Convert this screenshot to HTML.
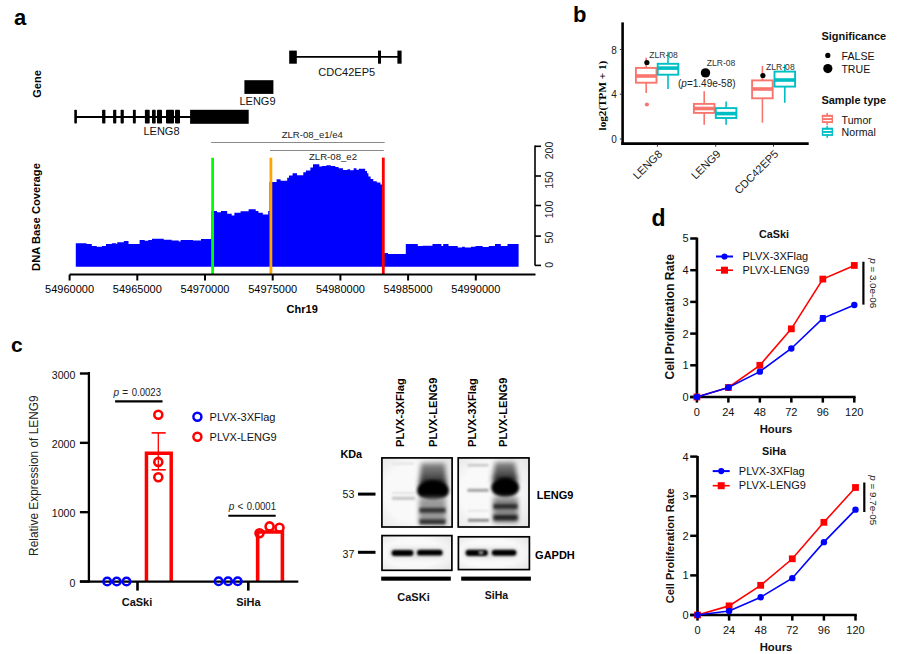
<!DOCTYPE html>
<html><head><meta charset="utf-8"><style>
html,body{margin:0;padding:0;background:#fff;width:899px;height:654px;overflow:hidden}
svg{display:block}
text{font-family:"Liberation Sans", sans-serif}
</style></head><body>
<svg width="899" height="654" viewBox="0 0 899 654">
<rect width="899" height="654" fill="#fff"/>
<text x="14.0" y="25.3" font-size="22" text-anchor="start" font-weight="bold" fill="#000" >a</text>
<text transform="translate(40.5,84) rotate(-90)" x="0" y="0" font-size="11" text-anchor="middle" font-weight="bold" fill="#000" >Gene</text>
<text transform="translate(40.2,217) rotate(-90)" x="0" y="0" font-size="11.2" text-anchor="middle" font-weight="bold" fill="#000" >DNA Base Coverage</text>
<line x1="75.6" y1="117.0" x2="191" y2="117.0" stroke="#000" stroke-width="1.9" />
<rect x="74.3" y="109.8" width="2.6000000000000085" height="13.8" fill="#000" rx="0.8"/>
<rect x="102.1" y="109.8" width="3.3000000000000114" height="13.8" fill="#000" rx="0.8"/>
<rect x="113.1" y="109.8" width="3.200000000000003" height="13.8" fill="#000" rx="0.8"/>
<rect x="120.6" y="109.8" width="3.200000000000003" height="13.8" fill="#000" rx="0.8"/>
<rect x="132.9" y="109.8" width="2.9000000000000057" height="13.8" fill="#000" rx="0.8"/>
<rect x="144.9" y="109.8" width="4.799999999999983" height="13.8" fill="#000" rx="0.8"/>
<rect x="152" y="109.8" width="3.6999999999999886" height="13.8" fill="#000" rx="0.8"/>
<rect x="157" y="109.8" width="5" height="13.8" fill="#000" rx="0.8"/>
<rect x="166" y="109.8" width="8" height="13.8" fill="#000" rx="0.8"/>
<rect x="175" y="109.8" width="5" height="13.8" fill="#000" rx="0.8"/>
<rect x="190.1" y="109.8" width="58.6" height="14" fill="#000" />
<text x="161.5" y="135" font-size="11" text-anchor="middle" font-weight="normal" fill="#111" >LENG8</text>
<rect x="244.4" y="80.2" width="29" height="13.7" fill="#000" />
<text x="257.5" y="105" font-size="11" text-anchor="middle" font-weight="normal" fill="#111" >LENG9</text>
<line x1="293" y1="56.9" x2="400" y2="56.9" stroke="#000" stroke-width="1.9" />
<rect x="289.2" y="50.6" width="7.6" height="13.1" fill="#000" />
<rect x="378" y="50.6" width="3" height="13.1" fill="#000" />
<rect x="397.4" y="50.6" width="4.2" height="13.1" fill="#000" />
<text x="346.7" y="75.5" font-size="11" text-anchor="middle" font-weight="normal" fill="#111" >CDC42EP5</text>
<line x1="211.1" y1="142.5" x2="384.7" y2="142.5" stroke="#8a8a8a" stroke-width="1" />
<text x="312.3" y="137.5" font-size="9.6" text-anchor="middle" font-weight="normal" fill="#222" >ZLR-08_e1/e4</text>
<line x1="270" y1="150.5" x2="383.8" y2="150.5" stroke="#8a8a8a" stroke-width="1" />
<text x="333" y="159.5" font-size="9.6" text-anchor="middle" font-weight="normal" fill="#222" >ZLR-08_e2</text>
<path d="M75.8,266.8 L75.8,243.2 L86.5,243.2 L86.5,244.1 L91.8,244.1 L91.8,245.9 L96.7,245.9 L96.7,246.8 L102,246.8 L102,246.1 L106,246.1 L106,244.1 L111.8,244.1 L111.8,243.2 L116.3,243.2 L116.3,244.1 L117.2,244.1 L117.2,242.2 L123.8,242.2 L123.8,241 L128.5,241 L128.5,244 L139.6,244 L139.6,240.1 L144.7,240.1 L144.7,240.7 L148.3,240.7 L148.3,240.1 L152,240.1 L152,238.8 L163.7,238.8 L163.7,239.7 L171.7,239.7 L171.7,240.6 L178.8,240.6 L178.8,241.5 L180.6,241.5 L180.6,240.1 L193,240.1 L193,240.6 L201,240.6 L201,239 L211.3,239 L211.3,211 L217,211 L217,212.3 L221,212.3 L221,211 L227.2,211 L227.2,213.7 L231.7,213.7 L231.7,215.5 L234.4,215.5 L234.4,212.8 L240.6,212.8 L240.6,211.2 L248.6,211.2 L248.6,209.2 L255.7,209.2 L255.7,211 L258.4,211 L258.4,212.8 L262.8,212.8 L262.8,214.6 L268.2,214.6 L268.2,211 L269.5,211 L269.5,182.1 L276.6,182.1 L276.6,179.2 L280.6,179.2 L280.6,180.8 L287.2,180.8 L287.2,177.7 L289,177.7 L289,175.5 L292.6,175.5 L292.6,173.2 L297,173.2 L297,175.3 L303.3,175.3 L303.3,172.3 L305.9,172.3 L305.9,170.6 L310.4,170.6 L310.4,167.5 L313,167.5 L313,164.3 L319.3,164.3 L319.3,166.6 L322,166.6 L322,166.1 L326.4,166.1 L326.4,165.2 L330.8,165.2 L330.8,166.1 L335.3,166.1 L335.3,167 L338.6,167 L338.6,168.3 L343,168.3 L343,170.1 L347.5,170.1 L347.5,169.2 L350.1,169.2 L350.1,170.3 L353.7,170.3 L353.7,168.3 L356.4,168.3 L356.4,169.7 L359,169.7 L359,168.8 L365.2,168.8 L365.2,171 L367,171 L367,173.2 L368.4,173.2 L368.4,176.4 L370.6,176.4 L370.6,179 L373.3,179 L373.3,181.2 L376.8,181.2 L376.8,182.6 L380.4,182.6 L380.4,184.4 L383,184.4 L383,253 L388,253 L388,253.9 L405.8,253.9 L405.8,244.1 L417.8,244.1 L417.8,246.1 L422.7,246.1 L422.7,245.7 L432.5,245.7 L432.5,244.1 L441.4,244.1 L441.4,245.9 L443.2,245.9 L443.2,244.1 L448.5,244.1 L448.5,246.1 L457.7,246.1 L457.7,247.4 L462.1,247.4 L462.1,246.8 L464.8,246.8 L464.8,247.4 L471,247.4 L471,246.8 L475.5,246.8 L475.5,246.1 L482.6,246.1 L482.6,247.1 L488.8,247.1 L488.8,245.9 L495,245.9 L495,244.1 L500.8,244.1 L500.8,246.1 L507.5,246.1 L507.5,244.1 L518.6,244.1 L518.6,266.8 Z" fill="#0000FF"/>
<line x1="212.6" y1="157.8" x2="212.6" y2="274.5" stroke="#00FF00" stroke-width="2.8" />
<line x1="270.9" y1="157.7" x2="270.9" y2="274.5" stroke="#FFA500" stroke-width="2.8" />
<line x1="383.3" y1="157.6" x2="383.3" y2="275" stroke="#FF0000" stroke-width="2.8" />
<line x1="69.6" y1="274.6" x2="535.5" y2="274.6" stroke="#000" stroke-width="2" />
<line x1="69.6" y1="274.6" x2="69.6" y2="280.5" stroke="#000" stroke-width="2" />
<text x="69.6" y="292.8" font-size="11" text-anchor="middle" font-weight="normal" fill="#000" >54960000</text>
<line x1="137.3" y1="274.6" x2="137.3" y2="280.5" stroke="#000" stroke-width="2" />
<text x="137.3" y="292.8" font-size="11" text-anchor="middle" font-weight="normal" fill="#000" >54965000</text>
<line x1="205.0" y1="274.6" x2="205.0" y2="280.5" stroke="#000" stroke-width="2" />
<text x="205.0" y="292.8" font-size="11" text-anchor="middle" font-weight="normal" fill="#000" >54970000</text>
<line x1="272.70000000000005" y1="274.6" x2="272.70000000000005" y2="280.5" stroke="#000" stroke-width="2" />
<text x="272.70000000000005" y="292.8" font-size="11" text-anchor="middle" font-weight="normal" fill="#000" >54975000</text>
<line x1="340.4" y1="274.6" x2="340.4" y2="280.5" stroke="#000" stroke-width="2" />
<text x="340.4" y="292.8" font-size="11" text-anchor="middle" font-weight="normal" fill="#000" >54980000</text>
<line x1="408.1" y1="274.6" x2="408.1" y2="280.5" stroke="#000" stroke-width="2" />
<text x="408.1" y="292.8" font-size="11" text-anchor="middle" font-weight="normal" fill="#000" >54985000</text>
<line x1="475.80000000000007" y1="274.6" x2="475.80000000000007" y2="280.5" stroke="#000" stroke-width="2" />
<text x="475.80000000000007" y="292.8" font-size="11" text-anchor="middle" font-weight="normal" fill="#000" >54990000</text>
<text x="302.2" y="313.2" font-size="11" text-anchor="middle" font-weight="bold" fill="#000" >Chr19</text>
<line x1="535" y1="145.6" x2="535" y2="265.6" stroke="#000" stroke-width="1.6" />
<line x1="535" y1="146.3" x2="541" y2="146.3" stroke="#000" stroke-width="1.6" />
<line x1="535" y1="176" x2="541" y2="176" stroke="#000" stroke-width="1.6" />
<line x1="535" y1="205.5" x2="541" y2="205.5" stroke="#000" stroke-width="1.6" />
<line x1="535" y1="236.1" x2="541" y2="236.1" stroke="#000" stroke-width="1.6" />
<line x1="535" y1="265.4" x2="541" y2="265.4" stroke="#000" stroke-width="1.6" />
<text transform="translate(552.8,150.5) rotate(-90)" x="0" y="0" font-size="10.5" text-anchor="middle" font-weight="normal" fill="#222" >200</text>
<text transform="translate(552.8,180.1) rotate(-90)" x="0" y="0" font-size="10.5" text-anchor="middle" font-weight="normal" fill="#222" >150</text>
<text transform="translate(552.8,209.5) rotate(-90)" x="0" y="0" font-size="10.5" text-anchor="middle" font-weight="normal" fill="#222" >100</text>
<text transform="translate(552.8,237.6) rotate(-90)" x="0" y="0" font-size="10.5" text-anchor="middle" font-weight="normal" fill="#222" >50</text>
<text transform="translate(552.8,264.8) rotate(-90)" x="0" y="0" font-size="10.5" text-anchor="middle" font-weight="normal" fill="#222" >0</text>
<text x="573" y="22" font-size="22" text-anchor="start" font-weight="bold" fill="#000" >b</text>
<text transform="translate(605.8,95.6) rotate(-90)" x="0" y="0" font-size="11.2" text-anchor="middle" font-weight="bold" style="font-family:'Liberation Serif', serif" fill="#000">log2(TPM + 1)</text>
<line x1="622.6" y1="22.4" x2="622.6" y2="144.8" stroke="#000" stroke-width="2.6" />
<line x1="621.3" y1="143.6" x2="808.7" y2="143.6" stroke="#000" stroke-width="2.6" />
<line x1="619.8" y1="139.0" x2="622" y2="139.0" stroke="#333" stroke-width="1" />
<text x="616.8" y="143.2" font-size="10" text-anchor="end" font-weight="normal" fill="#222" >0</text>
<line x1="619.8" y1="94.24000000000001" x2="622" y2="94.24000000000001" stroke="#333" stroke-width="1" />
<text x="616.8" y="98.44000000000001" font-size="10" text-anchor="end" font-weight="normal" fill="#222" >4</text>
<line x1="619.8" y1="49.480000000000004" x2="622" y2="49.480000000000004" stroke="#333" stroke-width="1" />
<text x="616.8" y="53.68000000000001" font-size="10" text-anchor="end" font-weight="normal" fill="#222" >8</text>
<line x1="657.4" y1="144.8" x2="657.4" y2="146.7" stroke="#333" stroke-width="1" />
<line x1="715.7" y1="144.8" x2="715.7" y2="146.7" stroke="#333" stroke-width="1" />
<line x1="773.5" y1="144.8" x2="773.5" y2="146.7" stroke="#333" stroke-width="1" />
<line x1="646.2" y1="57.8" x2="646.2" y2="67.9" stroke="#F8766D" stroke-width="1.6" />
<line x1="646.2" y1="82.7" x2="646.2" y2="93.0" stroke="#F8766D" stroke-width="1.6" />
<rect x="635.9000000000001" y="67.9" width="20.6" height="14.799999999999997" fill="#fff" stroke="#F8766D" stroke-width="1.9"/>
<line x1="635.9000000000001" y1="76.0" x2="656.5" y2="76.0" stroke="#F8766D" stroke-width="3.6" />
<circle cx="646.9" cy="104.5" r="2.1" fill="#F8766D"/>
<line x1="668.0" y1="51.7" x2="668.0" y2="63.8" stroke="#00BFC4" stroke-width="1.6" />
<line x1="668.0" y1="74.7" x2="668.0" y2="88.9" stroke="#00BFC4" stroke-width="1.6" />
<rect x="657.7" y="63.8" width="20.6" height="10.900000000000006" fill="#fff" stroke="#00BFC4" stroke-width="1.9"/>
<line x1="657.7" y1="68.1" x2="678.3" y2="68.1" stroke="#00BFC4" stroke-width="3.6" />
<line x1="704.2" y1="91.2" x2="704.2" y2="103.9" stroke="#F8766D" stroke-width="1.6" />
<line x1="704.2" y1="112.9" x2="704.2" y2="124.8" stroke="#F8766D" stroke-width="1.6" />
<rect x="693.9000000000001" y="103.9" width="20.6" height="9.0" fill="#fff" stroke="#F8766D" stroke-width="1.9"/>
<line x1="693.9000000000001" y1="108.5" x2="714.5" y2="108.5" stroke="#F8766D" stroke-width="3.6" />
<line x1="726.1" y1="101.5" x2="726.1" y2="108.1" stroke="#00BFC4" stroke-width="1.6" />
<line x1="726.1" y1="118.0" x2="726.1" y2="124.8" stroke="#00BFC4" stroke-width="1.6" />
<rect x="715.8000000000001" y="108.1" width="20.6" height="9.900000000000006" fill="#fff" stroke="#00BFC4" stroke-width="1.9"/>
<line x1="715.8000000000001" y1="113.6" x2="736.4" y2="113.6" stroke="#00BFC4" stroke-width="3.6" />
<line x1="762.4" y1="66.0" x2="762.4" y2="80.4" stroke="#F8766D" stroke-width="1.6" />
<line x1="762.4" y1="98.3" x2="762.4" y2="122.6" stroke="#F8766D" stroke-width="1.6" />
<rect x="752.1" y="80.4" width="20.6" height="17.89999999999999" fill="#fff" stroke="#F8766D" stroke-width="1.9"/>
<line x1="752.1" y1="89.0" x2="772.6999999999999" y2="89.0" stroke="#F8766D" stroke-width="3.6" />
<line x1="784.8" y1="64.5" x2="784.8" y2="71.6" stroke="#00BFC4" stroke-width="1.6" />
<line x1="784.8" y1="86.6" x2="784.8" y2="102.7" stroke="#00BFC4" stroke-width="1.6" />
<rect x="774.5" y="71.6" width="20.6" height="15.0" fill="#fff" stroke="#00BFC4" stroke-width="1.9"/>
<line x1="774.5" y1="80.0" x2="795.0999999999999" y2="80.0" stroke="#00BFC4" stroke-width="3.6" />
<circle cx="646.9" cy="62.5" r="2.6" fill="#000"/>
<circle cx="762.9" cy="75.5" r="2.6" fill="#000"/>
<circle cx="705.5" cy="72.9" r="4.7" fill="#000"/>
<text x="649.2" y="58.2" font-size="8.6" text-anchor="start" font-weight="normal" fill="#333" >ZLR-08</text>
<text x="706.7" y="66.1" font-size="8.6" text-anchor="start" font-weight="normal" fill="#333" >ZLR-08</text>
<text x="766.0" y="69.9" font-size="8.6" text-anchor="start" font-weight="normal" fill="#333" >ZLR-08</text>
<text x="678.0" y="87.4" font-size="10" text-anchor="start" font-weight="normal" fill="#222" >(<tspan font-style="italic">p</tspan>=1.49e-58)</text>
<text transform="translate(663.0,154.6) rotate(-45)" x="0" y="0" font-size="11" text-anchor="end" fill="#222">LENG8</text>
<text transform="translate(721.3000000000001,154.6) rotate(-45)" x="0" y="0" font-size="11" text-anchor="end" fill="#222">LENG9</text>
<text transform="translate(779.1,154.6) rotate(-45)" x="0" y="0" font-size="11" text-anchor="end" fill="#222">CDC42EP5</text>
<text x="821.4" y="40.4" font-size="11" text-anchor="start" font-weight="bold" fill="#111" >Significance</text>
<circle cx="827.8" cy="55.4" r="2.6" fill="#000"/>
<text x="841.6" y="60.1" font-size="10.6" text-anchor="start" font-weight="normal" fill="#111" >FALSE</text>
<circle cx="827.8" cy="68.6" r="4.6" fill="#000"/>
<text x="841.4" y="73.3" font-size="10.6" text-anchor="start" font-weight="normal" fill="#111" >TRUE</text>
<text x="821.4" y="103.6" font-size="11" text-anchor="start" font-weight="bold" fill="#111" >Sample type</text>
<rect x="826.4" y="112.89999999999999" width="1.5" height="12.1" fill="#F8766D" />
<rect x="821.8" y="114.8" width="11.2" height="8.2" fill="#F8766D" />
<rect x="823.2" y="116.89999999999999" width="8.4" height="1.2" fill="#fff" />
<rect x="823.2" y="120.0" width="8.4" height="1.2" fill="#fff" />
<rect x="826.4" y="125.8" width="1.5" height="12.1" fill="#00BFC4" />
<rect x="821.8" y="127.7" width="11.2" height="8.2" fill="#00BFC4" />
<rect x="823.2" y="129.8" width="8.4" height="1.2" fill="#fff" />
<rect x="823.2" y="132.9" width="8.4" height="1.2" fill="#fff" />
<text x="841.6" y="123.7" font-size="10.6" text-anchor="start" font-weight="normal" fill="#111" >Tumor</text>
<text x="841.6" y="136.3" font-size="10.6" text-anchor="start" font-weight="normal" fill="#111" >Normal</text>
<text x="11" y="352.4" font-size="21" text-anchor="start" font-weight="bold" fill="#000" >c</text>
<text transform="translate(37.6,475.6) rotate(-90)" x="0" y="0" font-size="11.9" text-anchor="middle" font-weight="normal" fill="#222" >Relative Expression of LENG9</text>
<path d="M146.45,581.5 L146.45,453.2 L171.2,453.2 L171.2,581.5" fill="none" stroke="#FF0000" stroke-width="3.5"/>
<path d="M257.65,581.5 L257.65,531.95 L282.4,531.95 L282.4,581.5" fill="none" stroke="#FF0000" stroke-width="3.6"/>
<line x1="158.3" y1="432.9" x2="158.3" y2="469.8" stroke="#FF0000" stroke-width="1.3" />
<line x1="151.6" y1="432.9" x2="165.7" y2="432.9" stroke="#FF0000" stroke-width="1.6" />
<line x1="151.6" y1="469.8" x2="165.7" y2="469.8" stroke="#FF0000" stroke-width="1.6" />
<line x1="88.9" y1="372.0" x2="88.9" y2="582.6" stroke="#000" stroke-width="2.3" />
<line x1="79.9" y1="581.5" x2="88.9" y2="581.5" stroke="#000" stroke-width="2.4" />
<text x="75.4" y="586.8" font-size="10.6" text-anchor="end" font-weight="normal" fill="#111" >0</text>
<line x1="79.9" y1="512.17" x2="88.9" y2="512.17" stroke="#000" stroke-width="2.4" />
<text x="75.4" y="517.4699999999999" font-size="10.6" text-anchor="end" font-weight="normal" fill="#111" >1000</text>
<line x1="79.9" y1="442.84000000000003" x2="88.9" y2="442.84000000000003" stroke="#000" stroke-width="2.4" />
<text x="75.4" y="448.14000000000004" font-size="10.6" text-anchor="end" font-weight="normal" fill="#111" >2000</text>
<line x1="79.9" y1="373.51" x2="88.9" y2="373.51" stroke="#000" stroke-width="2.4" />
<text x="75.4" y="378.81" font-size="10.6" text-anchor="end" font-weight="normal" fill="#111" >3000</text>
<line x1="79.9" y1="581.6" x2="298.3" y2="581.6" stroke="#000" stroke-width="2.4" />
<line x1="137.5" y1="582" x2="137.5" y2="590.6" stroke="#000" stroke-width="2.6" />
<line x1="248.3" y1="582" x2="248.3" y2="590.6" stroke="#000" stroke-width="2.6" />
<text x="137" y="606.2" font-size="11" text-anchor="middle" font-weight="bold" fill="#111" >CaSki</text>
<text x="248.4" y="606.4" font-size="11" text-anchor="middle" font-weight="bold" fill="#111" >SiHa</text>
<circle cx="107.2" cy="581.5" r="3.8" fill="none" stroke="#0000FF" stroke-width="2.5"/>
<circle cx="116.7" cy="581.5" r="3.8" fill="none" stroke="#0000FF" stroke-width="2.5"/>
<circle cx="126.5" cy="581.5" r="3.8" fill="none" stroke="#0000FF" stroke-width="2.5"/>
<circle cx="218.6" cy="581.3" r="3.8" fill="none" stroke="#0000FF" stroke-width="2.5"/>
<circle cx="228.1" cy="581.3" r="3.8" fill="none" stroke="#0000FF" stroke-width="2.5"/>
<circle cx="237.7" cy="581.3" r="3.8" fill="none" stroke="#0000FF" stroke-width="2.5"/>
<circle cx="158.3" cy="414.8" r="4.0" fill="none" stroke="#FF0000" stroke-width="2.6"/>
<circle cx="158.3" cy="461.9" r="4.0" fill="none" stroke="#FF0000" stroke-width="2.6"/>
<circle cx="158.3" cy="477.2" r="4.0" fill="none" stroke="#FF0000" stroke-width="2.6"/>
<circle cx="259.5" cy="533.3" r="4.0" fill="none" stroke="#FF0000" stroke-width="2.6"/>
<circle cx="269.6" cy="526.4" r="4.0" fill="none" stroke="#FF0000" stroke-width="2.6"/>
<circle cx="279.5" cy="527.8" r="4.0" fill="none" stroke="#FF0000" stroke-width="2.6"/>
<text x="113.4" y="395.9" font-size="10" text-anchor="start" font-weight="normal" fill="#222" font-style="italic">p</text>
<text x="122.2" y="395.9" font-size="10" text-anchor="start" font-weight="normal" fill="#222" >=</text>
<text x="131.7" y="396.0" font-size="10.1" text-anchor="start" font-weight="normal" fill="#222" textLength="29.3" lengthAdjust="spacingAndGlyphs">0.0023</text>
<line x1="115.1" y1="401.4" x2="162.5" y2="401.4" stroke="#000" stroke-width="2.1" />
<text x="228.8" y="509.8" font-size="10" text-anchor="start" font-weight="normal" fill="#222" font-style="italic">p</text>
<text x="237.6" y="509.8" font-size="10" text-anchor="start" font-weight="normal" fill="#222" >&lt;</text>
<text x="246.7" y="509.9" font-size="10.1" text-anchor="start" font-weight="normal" fill="#222" textLength="29.3" lengthAdjust="spacingAndGlyphs">0.0001</text>
<line x1="228.3" y1="515.8" x2="275.7" y2="515.8" stroke="#000" stroke-width="2.1" />
<circle cx="197.4" cy="416.7" r="4.0" fill="none" stroke="#0000FF" stroke-width="2.5"/>
<circle cx="197.4" cy="436.7" r="4.0" fill="none" stroke="#FF0000" stroke-width="2.5"/>
<text x="209.6" y="421.3" font-size="11" text-anchor="start" font-weight="normal" fill="#111" >PLVX-3XFlag</text>
<text x="209.6" y="441.0" font-size="11" text-anchor="start" font-weight="normal" fill="#111" >PLVX-LENG9</text>
<text transform="translate(404.4,446.9) rotate(-90)" x="0" y="0" font-size="11.2" font-weight="bold" fill="#000">PLVX-3XFlag</text>
<text transform="translate(437,446.9) rotate(-90)" x="0" y="0" font-size="11.2" font-weight="bold" fill="#000">PLVX-LENG9</text>
<text transform="translate(475.6,446.9) rotate(-90)" x="0" y="0" font-size="11.2" font-weight="bold" fill="#000">PLVX-3XFlag</text>
<text transform="translate(507.2,446.9) rotate(-90)" x="0" y="0" font-size="11.2" font-weight="bold" fill="#000">PLVX-LENG9</text>
<text x="340.5" y="457.6" font-size="10.8" text-anchor="start" font-weight="bold" fill="#000" >KDa</text>
<defs>
<filter id="b1" x="-50%" y="-200%" width="200%" height="500%"><feGaussianBlur stdDeviation="1.3"/></filter>
<filter id="b2" x="-50%" y="-50%" width="200%" height="200%"><feGaussianBlur stdDeviation="2.4"/></filter>
<filter id="b4" x="-50%" y="-50%" width="200%" height="200%"><feGaussianBlur stdDeviation="3.2"/></filter>
<filter id="b5" x="-50%" y="-100%" width="200%" height="300%"><feGaussianBlur stdDeviation="1.7"/></filter>
<filter id="b3" x="-50%" y="-200%" width="200%" height="500%"><feGaussianBlur stdDeviation="0.9"/></filter>
<linearGradient id="smear" x1="0" y1="0" x2="0" y2="1"><stop offset="0" stop-color="#8a8a8a"/><stop offset="0.55" stop-color="#555"/><stop offset="1" stop-color="#111"/></linearGradient>
<radialGradient id="bg" cx="0.45" cy="0.5" r="0.75"><stop offset="0.55" stop-color="#f9f9f9"/><stop offset="1" stop-color="#e2e2e2"/></radialGradient>
<clipPath id="c1"><rect x="382" y="458" width="70" height="69"/></clipPath>
<clipPath id="c2"><rect x="458.4" y="458" width="70.4" height="69"/></clipPath>
<clipPath id="c3"><rect x="382" y="535.6" width="70" height="34.6"/></clipPath>
<clipPath id="c4"><rect x="458.4" y="536.8" width="71" height="32.8"/></clipPath>
</defs>
<rect x="382" y="458" width="70" height="69" fill="url(#bg)" />
<rect x="458.4" y="458" width="70.4" height="69" fill="url(#bg)" />
<rect x="382" y="535.6" width="70" height="34.6" fill="url(#bg)" />
<rect x="458.4" y="536.8" width="71" height="32.8" fill="url(#bg)" />
<g clip-path="url(#c1)">
<rect x="392" y="496.8" width="23" height="3" fill="#c2c2c2" filter="url(#b1)"/>
<rect x="392" y="492" width="23" height="2" fill="#e2e2e2" filter="url(#b1)"/>
<rect x="392" y="462.5" width="22" height="2.5" fill="#e6e6e6" filter="url(#b1)"/>
<path d="M421,463 L445,463 L447,486 L419,486 Z" fill="url(#smear)" filter="url(#b2)"/>
<ellipse cx="433" cy="490.4" rx="16" ry="10.5" fill="#000" filter="url(#b5)"/>
<rect x="419" y="498" width="27" height="26" fill="#9a9a9a" filter="url(#b2)"/>
<rect x="419.5" y="507.8" width="26" height="5" fill="#333" filter="url(#b5)"/>
<rect x="419.5" y="519.2" width="26" height="5.2" fill="#333" filter="url(#b5)"/>
</g>
<g clip-path="url(#c2)">
<rect x="467.5" y="464" width="21" height="2.4" fill="#c4c4c4" filter="url(#b1)"/>
<rect x="467.5" y="488.8" width="21" height="3" fill="#a0a0a0" filter="url(#b1)"/>
<rect x="468" y="510" width="20" height="1.5" fill="#e0e0e0" filter="url(#b1)"/>
<rect x="468" y="518.8" width="21" height="3" fill="#8a8a8a" filter="url(#b1)"/>
<path d="M495,462 L515,462 L518,482 L492,482 Z" fill="url(#smear)" filter="url(#b2)"/>
<ellipse cx="505.2" cy="487.5" rx="14" ry="10" fill="#000" filter="url(#b5)"/>
<rect x="493" y="497" width="25" height="26" fill="#8a8a8a" filter="url(#b2)"/>
<rect x="493.5" y="503.9" width="24" height="5" fill="#2a2a2a" filter="url(#b5)"/>
<rect x="493.5" y="514.9" width="24" height="5.4" fill="#222" filter="url(#b5)"/>
</g>
<g clip-path="url(#c3)">
<rect x="390" y="548.5" width="54" height="9" rx="4" fill="#d8d8d8" filter="url(#b2)"/>
<rect x="391.6" y="550" width="21.8" height="6" rx="3" fill="#000" filter="url(#b3)"/>
<rect x="417" y="549.8" width="25.6" height="5.8" rx="3" fill="#000" filter="url(#b3)"/>
</g><g clip-path="url(#c4)">
<rect x="464" y="548.5" width="54" height="9" rx="4" fill="#d8d8d8" filter="url(#b2)"/>
<rect x="465.6" y="549.8" width="22.2" height="6.2" rx="3" fill="#000" filter="url(#b3)"/>
<ellipse cx="481" cy="552.6" rx="2.6" ry="2.2" fill="#888" filter="url(#b3)"/>
<rect x="491.8" y="549.8" width="24.6" height="6" rx="3" fill="#000" filter="url(#b3)"/>
</g>
<rect x="381.90000000000003" y="457.90000000000003" width="70.2" height="69.10000000000001" fill="none" stroke="#000" stroke-width="1.7"/>
<rect x="458.2" y="457.90000000000003" width="70.80000000000001" height="69.10000000000001" fill="none" stroke="#000" stroke-width="1.7"/>
<rect x="382.0" y="535.5999999999999" width="69.9" height="34.699999999999996" fill="none" stroke="#000" stroke-width="1.7"/>
<rect x="458.40000000000003" y="536.8" width="71.0" height="32.8" fill="none" stroke="#000" stroke-width="1.7"/>
<text x="342.5" y="498" font-size="10.6" text-anchor="start" font-weight="normal" fill="#111" >53</text>
<rect x="358" y="492.6" width="17.5" height="3" fill="#000" />
<text x="342.5" y="557.8" font-size="10.6" text-anchor="start" font-weight="normal" fill="#111" >37</text>
<rect x="358" y="550.8" width="17.5" height="3" fill="#000" />
<rect x="381.2" y="576.6" width="69.6" height="4.1" fill="#000" />
<rect x="461.2" y="576.6" width="69.7" height="4.1" fill="#000" />
<text x="413.5" y="601.2" font-size="11" text-anchor="middle" font-weight="bold" fill="#111" >CaSKi</text>
<text x="496.4" y="598.6" font-size="10.5" text-anchor="middle" font-weight="bold" fill="#111" >SiHa</text>
<text x="536.8" y="498.9" font-size="11" text-anchor="start" font-weight="bold" fill="#000" >LENG9</text>
<text x="535.1" y="558.7" font-size="11" text-anchor="start" font-weight="bold" fill="#000" >GAPDH</text>
<text x="651.6" y="225.9" font-size="23" text-anchor="start" font-weight="bold" fill="#000" >d</text>
<line x1="696.9" y1="237.6" x2="696.9" y2="398.3" stroke="#000" stroke-width="2.7" />
<line x1="690.2" y1="397.0" x2="696.9" y2="397.0" stroke="#000" stroke-width="2.5" />
<text x="688.6" y="400.9" font-size="11" text-anchor="end" font-weight="normal" fill="#111" >0</text>
<line x1="690.2" y1="365.3" x2="696.9" y2="365.3" stroke="#000" stroke-width="2.5" />
<text x="688.6" y="369.2" font-size="11" text-anchor="end" font-weight="normal" fill="#111" >1</text>
<line x1="690.2" y1="333.6" x2="696.9" y2="333.6" stroke="#000" stroke-width="2.5" />
<text x="688.6" y="337.5" font-size="11" text-anchor="end" font-weight="normal" fill="#111" >2</text>
<line x1="690.2" y1="301.9" x2="696.9" y2="301.9" stroke="#000" stroke-width="2.5" />
<text x="688.6" y="305.79999999999995" font-size="11" text-anchor="end" font-weight="normal" fill="#111" >3</text>
<line x1="690.2" y1="270.2" x2="696.9" y2="270.2" stroke="#000" stroke-width="2.5" />
<text x="688.6" y="274.09999999999997" font-size="11" text-anchor="end" font-weight="normal" fill="#111" >4</text>
<line x1="690.2" y1="238.5" x2="696.9" y2="238.5" stroke="#000" stroke-width="2.5" />
<text x="688.6" y="242.4" font-size="11" text-anchor="end" font-weight="normal" fill="#111" >5</text>
<line x1="690.2" y1="397" x2="855.5999999999999" y2="397" stroke="#000" stroke-width="2.7" />
<line x1="696.9" y1="397" x2="696.9" y2="402.6" stroke="#000" stroke-width="2.5" />
<text x="696.9" y="415.6" font-size="11" text-anchor="middle" font-weight="normal" fill="#111" >0</text>
<line x1="728.38" y1="397" x2="728.38" y2="402.6" stroke="#000" stroke-width="2.5" />
<text x="728.38" y="415.6" font-size="11" text-anchor="middle" font-weight="normal" fill="#111" >24</text>
<line x1="759.86" y1="397" x2="759.86" y2="402.6" stroke="#000" stroke-width="2.5" />
<text x="759.86" y="415.6" font-size="11" text-anchor="middle" font-weight="normal" fill="#111" >48</text>
<line x1="791.3399999999999" y1="397" x2="791.3399999999999" y2="402.6" stroke="#000" stroke-width="2.5" />
<text x="791.3399999999999" y="415.6" font-size="11" text-anchor="middle" font-weight="normal" fill="#111" >72</text>
<line x1="822.8199999999999" y1="397" x2="822.8199999999999" y2="402.6" stroke="#000" stroke-width="2.5" />
<text x="822.8199999999999" y="415.6" font-size="11" text-anchor="middle" font-weight="normal" fill="#111" >96</text>
<line x1="854.3" y1="397" x2="854.3" y2="402.6" stroke="#000" stroke-width="2.5" />
<text x="854.3" y="415.6" font-size="11" text-anchor="middle" font-weight="normal" fill="#111" >120</text>
<text x="776" y="432.7" font-size="11.3" text-anchor="middle" font-weight="bold" fill="#111" >Hours</text>
<text x="774" y="238.2" font-size="10.8" text-anchor="middle" font-weight="bold" fill="#111" >CaSki</text>
<text transform="translate(674.4,316.8) rotate(-90)" x="0" y="0" font-size="12" text-anchor="middle" font-weight="bold" fill="#111" >Cell Proliferation Rate</text>
<polyline points="696.9,397.0 728.38,387.49 759.86,365.3 791.3399999999999,328.845 822.8199999999999,279.076 854.3,265.445" fill="none" stroke="#FF0000" stroke-width="1.6"/>
<rect x="693.5" y="393.6" width="6.8" height="6.8" fill="#FF0000" />
<rect x="724.98" y="384.09000000000003" width="6.8" height="6.8" fill="#FF0000" />
<rect x="756.46" y="361.90000000000003" width="6.8" height="6.8" fill="#FF0000" />
<rect x="787.9399999999999" y="325.44500000000005" width="6.8" height="6.8" fill="#FF0000" />
<rect x="819.42" y="275.67600000000004" width="6.8" height="6.8" fill="#FF0000" />
<rect x="850.9" y="262.045" width="6.8" height="6.8" fill="#FF0000" />
<polyline points="696.9,397.0 728.38,387.49 759.86,371.64 791.3399999999999,348.499 822.8199999999999,318.384 854.3,305.07" fill="none" stroke="#0000FF" stroke-width="1.6"/>
<line x1="822.8199999999999" y1="315.848" x2="822.8199999999999" y2="320.92" stroke="#0000FF" stroke-width="1.5" />
<line x1="819.8199999999999" y1="315.848" x2="825.8199999999999" y2="315.848" stroke="#0000FF" stroke-width="1.5" />
<line x1="819.8199999999999" y1="320.92" x2="825.8199999999999" y2="320.92" stroke="#0000FF" stroke-width="1.5" />
<circle cx="696.9" cy="397.0" r="3.2" fill="#0000FF"/>
<circle cx="728.38" cy="387.49" r="3.2" fill="#0000FF"/>
<circle cx="759.86" cy="371.64" r="3.2" fill="#0000FF"/>
<circle cx="791.3399999999999" cy="348.499" r="3.2" fill="#0000FF"/>
<circle cx="822.8199999999999" cy="318.384" r="3.2" fill="#0000FF"/>
<circle cx="854.3" cy="305.07" r="3.2" fill="#0000FF"/>
<line x1="716" y1="256.5" x2="733" y2="256.5" stroke="#0000FF" stroke-width="2" />
<circle cx="724.5" cy="256.5" r="3.1" fill="#0000FF"/>
<line x1="716" y1="270.2" x2="733" y2="270.2" stroke="#FF0000" stroke-width="1.6" />
<rect x="721.0" y="266.7" width="7" height="7" fill="#FF0000" />
<text x="742.4" y="259.9" font-size="11" text-anchor="start" font-weight="normal" fill="#111" >PLVX-3XFlag</text>
<text x="742.4" y="273.8" font-size="11" text-anchor="start" font-weight="normal" fill="#111" >PLVX-LENG9</text>
<line x1="863.4" y1="261.7" x2="863.4" y2="304.6" stroke="#000" stroke-width="2.2" />
<text transform="translate(870.2,283.2) rotate(90)" x="0" y="0" font-size="9.2" text-anchor="middle" fill="#222" textLength="50" lengthAdjust="spacingAndGlyphs"><tspan font-style="italic">p</tspan> = 3.0e-06</text>
<line x1="697.5" y1="456" x2="697.5" y2="616.3" stroke="#000" stroke-width="2.7" />
<line x1="690.2" y1="615.0" x2="697.5" y2="615.0" stroke="#000" stroke-width="2.5" />
<text x="688.6" y="618.9" font-size="11" text-anchor="end" font-weight="normal" fill="#111" >0</text>
<line x1="690.2" y1="575.4" x2="697.5" y2="575.4" stroke="#000" stroke-width="2.5" />
<text x="688.6" y="579.3" font-size="11" text-anchor="end" font-weight="normal" fill="#111" >1</text>
<line x1="690.2" y1="535.8" x2="697.5" y2="535.8" stroke="#000" stroke-width="2.5" />
<text x="688.6" y="539.6999999999999" font-size="11" text-anchor="end" font-weight="normal" fill="#111" >2</text>
<line x1="690.2" y1="496.2" x2="697.5" y2="496.2" stroke="#000" stroke-width="2.5" />
<text x="688.6" y="500.09999999999997" font-size="11" text-anchor="end" font-weight="normal" fill="#111" >3</text>
<line x1="690.2" y1="456.6" x2="697.5" y2="456.6" stroke="#000" stroke-width="2.5" />
<text x="688.6" y="460.5" font-size="11" text-anchor="end" font-weight="normal" fill="#111" >4</text>
<line x1="690.2" y1="615" x2="856.8" y2="615" stroke="#000" stroke-width="2.7" />
<line x1="697.5" y1="615" x2="697.5" y2="620.6" stroke="#000" stroke-width="2.5" />
<text x="697.5" y="634" font-size="11" text-anchor="middle" font-weight="normal" fill="#111" >0</text>
<line x1="729.1" y1="615" x2="729.1" y2="620.6" stroke="#000" stroke-width="2.5" />
<text x="729.1" y="634" font-size="11" text-anchor="middle" font-weight="normal" fill="#111" >24</text>
<line x1="760.7" y1="615" x2="760.7" y2="620.6" stroke="#000" stroke-width="2.5" />
<text x="760.7" y="634" font-size="11" text-anchor="middle" font-weight="normal" fill="#111" >48</text>
<line x1="792.3" y1="615" x2="792.3" y2="620.6" stroke="#000" stroke-width="2.5" />
<text x="792.3" y="634" font-size="11" text-anchor="middle" font-weight="normal" fill="#111" >72</text>
<line x1="823.9" y1="615" x2="823.9" y2="620.6" stroke="#000" stroke-width="2.5" />
<text x="823.9" y="634" font-size="11" text-anchor="middle" font-weight="normal" fill="#111" >96</text>
<line x1="855.5" y1="615" x2="855.5" y2="620.6" stroke="#000" stroke-width="2.5" />
<text x="855.5" y="634" font-size="11" text-anchor="middle" font-weight="normal" fill="#111" >120</text>
<text x="776" y="651" font-size="11.3" text-anchor="middle" font-weight="bold" fill="#111" >Hours</text>
<text x="774" y="454.8" font-size="10.8" text-anchor="middle" font-weight="bold" fill="#111" >SiHa</text>
<text transform="translate(674.4,545.8) rotate(-90)" x="0" y="0" font-size="11" text-anchor="middle" font-weight="bold" fill="#111" >Cell Proliferation Rate</text>
<polyline points="697.5,615.0 729.1,605.892 760.7,585.3 792.3,558.768 823.9,522.336 855.5,487.488" fill="none" stroke="#FF0000" stroke-width="1.6"/>
<rect x="694.1" y="611.6" width="6.8" height="6.8" fill="#FF0000" />
<rect x="725.7" y="602.4920000000001" width="6.8" height="6.8" fill="#FF0000" />
<rect x="757.3000000000001" y="581.9" width="6.8" height="6.8" fill="#FF0000" />
<rect x="788.9" y="555.368" width="6.8" height="6.8" fill="#FF0000" />
<rect x="820.5" y="518.936" width="6.8" height="6.8" fill="#FF0000" />
<rect x="852.1" y="484.088" width="6.8" height="6.8" fill="#FF0000" />
<polyline points="697.5,615.0 729.1,611.04 760.7,597.18 792.3,578.172 823.9,542.136 855.5,509.664" fill="none" stroke="#0000FF" stroke-width="1.6"/>
<circle cx="697.5" cy="615.0" r="3.2" fill="#0000FF"/>
<circle cx="729.1" cy="611.04" r="3.2" fill="#0000FF"/>
<circle cx="760.7" cy="597.18" r="3.2" fill="#0000FF"/>
<circle cx="792.3" cy="578.172" r="3.2" fill="#0000FF"/>
<circle cx="823.9" cy="542.136" r="3.2" fill="#0000FF"/>
<circle cx="855.5" cy="509.664" r="3.2" fill="#0000FF"/>
<line x1="712.7" y1="471.1" x2="729.7" y2="471.1" stroke="#0000FF" stroke-width="2" />
<circle cx="721.2" cy="471.1" r="3.1" fill="#0000FF"/>
<line x1="712.7" y1="485.7" x2="729.7" y2="485.7" stroke="#FF0000" stroke-width="1.6" />
<rect x="717.7" y="482.2" width="7" height="7" fill="#FF0000" />
<text x="738.8" y="474.5" font-size="11" text-anchor="start" font-weight="normal" fill="#111" >PLVX-3XFlag</text>
<text x="738.8" y="489.3" font-size="11" text-anchor="start" font-weight="normal" fill="#111" >PLVX-LENG9</text>
<line x1="864.3" y1="482.5" x2="864.3" y2="512" stroke="#000" stroke-width="2.2" />
<text transform="translate(870.2,500.3) rotate(90)" x="0" y="0" font-size="9.2" text-anchor="middle" fill="#222" textLength="50" lengthAdjust="spacingAndGlyphs"><tspan font-style="italic">p</tspan> = 9.7e-05</text>
</svg>
</body></html>
